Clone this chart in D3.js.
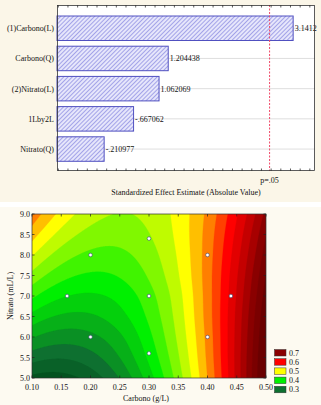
<!DOCTYPE html>
<html><head><meta charset="utf-8">
<script src="https://cdn.jsdelivr.net/npm/d3@7"></script>
<style>html,body{margin:0;padding:0;background:#fff;}svg{display:block;}</style>
</head><body>
<script>
// ---------- Pareto chart data ----------
const categories = ["(1)Carbono(L)", "Carbono(Q)", "(2)Nitrato(L)", "1Lby2L", "Nitrato(Q)"];
const effects = [3.1412, 1.204438, 1.062069, -0.667062, -0.210977];
const effectLabels = ["3.1412", "1.204438", "1.062069", "-.667062", "-.210977"];
const pCritical = 2.776;
const pLabel = "p=.05";
const paretoTitle = "Standardized Effect Estimate (Absolute Value)";

// ---------- Contour chart data ----------
const carbonoValues = [0.10, 0.15, 0.20, 0.25, 0.30, 0.35, 0.40, 0.45, 0.50];
const nitratoValues = [9.0, 8.5, 8.0, 7.5, 7.0, 6.5, 6.0, 5.5, 5.0];
const response = [
  [0.568, 0.517, 0.486, 0.474, 0.482, 0.509, 0.556, 0.622, 0.708],
  [0.536, 0.491, 0.466, 0.460, 0.474, 0.507, 0.560, 0.632, 0.724],
  [0.502, 0.463, 0.444, 0.444, 0.464, 0.503, 0.562, 0.640, 0.738],
  [0.467, 0.434, 0.421, 0.427, 0.453, 0.498, 0.563, 0.647, 0.751],
  [0.430, 0.403, 0.396, 0.408, 0.440, 0.491, 0.562, 0.652, 0.762],
  [0.392, 0.371, 0.371, 0.391, 0.430, 0.486, 0.561, 0.656, 0.772],
  [0.352, 0.337, 0.343, 0.370, 0.418, 0.480, 0.558, 0.658, 0.780],
  [0.311, 0.302, 0.315, 0.350, 0.405, 0.472, 0.555, 0.659, 0.787],
  [0.268, 0.265, 0.285, 0.326, 0.388, 0.462, 0.550, 0.658, 0.792]
];
const designCarbono = [0.20, 0.20, 0.40, 0.40, 0.16, 0.44, 0.30, 0.30, 0.30];
const designNitrato = [6.0, 8.0, 6.0, 8.0, 7.0, 7.0, 5.6, 8.4, 7.0];
const xTicks = [0.10, 0.15, 0.20, 0.25, 0.30, 0.35, 0.40, 0.45, 0.50];
const yTicks = [5.0, 5.5, 6.0, 6.5, 7.0, 7.5, 8.0, 8.5, 9.0];
const legendLevels = [0.7, 0.6, 0.5, 0.4, 0.3];
const colorStops = [0.25, 0.3, 0.4, 0.5, 0.6, 0.7, 0.75];
const colorValues = ["#03521f", "#0e7030", "#00f000", "#ffff00", "#ff0000", "#8a0000", "#6a0000"];
const levelStep = 0.025;

const W = 321, H = 405;
const FONT = "'Liberation Serif', 'Times New Roman', serif";
const svg = d3.select("body").append("svg").attr("width", W).attr("height", H);

// backgrounds
svg.append("rect").attr("x", 0).attr("y", 0).attr("width", W).attr("height", 202).attr("fill", "#fbf6e8");
svg.append("rect").attr("x", 0).attr("y", 207).attr("width", W).attr("height", H - 207).attr("fill", "#fdfaf1");

const defs = svg.append("defs");
const pat = defs.append("pattern").attr("id", "hatch").attr("patternUnits", "userSpaceOnUse")
  .attr("width", 3).attr("height", 3).attr("patternTransform", "rotate(45)");
pat.append("rect").attr("width", 3).attr("height", 3).attr("fill", "#e6e6fb");
pat.append("line").attr("x1", 0).attr("y1", 0).attr("x2", 0).attr("y2", 3)
  .attr("stroke", "#7676dc").attr("stroke-width", 1.2);

// ---------- Pareto ----------
const px0 = 57, px1 = 315, py0 = 5, py1 = 171;
const xE = d3.scaleLinear().domain([-0.52, 3.48]).range([px0, px1]);
const yB = d3.scaleBand().domain(categories).range([10.3, 167]).paddingInner(0.189).paddingOuter(0.189);
const gP = svg.append("g");
gP.append("rect").attr("x", px0).attr("y", py0).attr("width", px1 - px0).attr("height", py1 - py0).attr("fill", "#fff");
gP.selectAll(".grid").data(categories).enter().append("line")
  .attr("x1", px0).attr("x2", px1)
  .attr("y1", d => yB(d) + yB.bandwidth() / 2).attr("y2", d => yB(d) + yB.bandwidth() / 2)
  .attr("stroke", "#d6d6d6").attr("stroke-width", 0.8);
gP.selectAll(".bar").data(categories).enter().append("rect")
  .attr("x", px0).attr("y", d => yB(d))
  .attr("width", (d, i) => xE(Math.abs(effects[i])) - px0)
  .attr("height", yB.bandwidth())
  .attr("fill", "url(#hatch)").attr("stroke", "#5050c0").attr("stroke-width", 1);
gP.selectAll(".val").data(categories).enter().append("text")
  .attr("x", (d, i) => xE(Math.abs(effects[i])) + 1.5)
  .attr("y", d => yB(d) + yB.bandwidth() / 2 + 3)
  .attr("font-family", FONT).attr("font-size", 8).attr("fill", "#111")
  .text((d, i) => effectLabels[i]);
gP.selectAll(".cat").data(categories).enter().append("text")
  .attr("x", 54).attr("y", d => yB(d) + yB.bandwidth() / 2 + 3)
  .attr("text-anchor", "end").attr("font-family", FONT).attr("font-size", 8).attr("fill", "#111")
  .text(d => d);
gP.append("line").attr("x1", xE(pCritical)).attr("x2", xE(pCritical)).attr("y1", py0).attr("y2", py1)
  .attr("stroke", "#f04868").attr("stroke-width", 1).attr("stroke-dasharray", "2,1.5");
// frame
gP.append("rect").attr("x", px0 + 0.5).attr("y", py0 + 0.5).attr("width", px1 - px0 - 1).attr("height", py1 - py0 - 1)
  .attr("fill", "none").attr("stroke", "#333").attr("stroke-width", 0.8);
const frameTicks = d3.range(-0.5, 3.48, 0.15);
gP.selectAll(".tt").data(frameTicks).enter().append("line")
  .attr("x1", d => xE(d)).attr("x2", d => xE(d)).attr("y1", py0).attr("y2", py0 + 2.5)
  .attr("stroke", "#333").attr("stroke-width", 0.8);
gP.selectAll(".tb").data(frameTicks).enter().append("line")
  .attr("x1", d => xE(d)).attr("x2", d => xE(d)).attr("y1", py1).attr("y2", py1 - 2.5)
  .attr("stroke", "#333").attr("stroke-width", 0.8);
gP.append("text").attr("x", xE(pCritical)).attr("y", 183).attr("text-anchor", "middle")
  .attr("font-family", FONT).attr("font-size", 8).attr("fill", "#111").text(pLabel);
gP.append("text").attr("x", 186).attr("y", 194.5).attr("text-anchor", "middle")
  .attr("font-family", FONT).attr("font-size", 8).attr("fill", "#111").text(paretoTitle);

// ---------- Contour ----------
const cx0 = 32, cx1 = 266, cy0 = 214, cy1 = 378;
const xC = d3.scaleLinear().domain([0.10, 0.50]).range([cx0, cx1]);
const yN = d3.scaleLinear().domain([5.0, 9.0]).range([cy1, cy0]);
const color = d3.scaleLinear().domain(colorStops).range(colorValues).clamp(true);

// Catmull-Rom sampling of the read grid (rendering only)
function padded(arr) {
  const n = arr.length;
  return [3 * arr[0] - 3 * arr[1] + arr[2], ...arr, 3 * arr[n - 1] - 3 * arr[n - 2] + arr[n - 3]];
}
function cubic(p0, p1, p2, p3, t) {
  return p1 + 0.5 * t * (p2 - p0 + t * (2 * p0 - 5 * p1 + 4 * p2 - p3 + t * (3 * (p1 - p2) + p3 - p0)));
}
const nc = carbonoValues.length, nr = nitratoValues.length;
const rowsPadded = response.map(padded);
const grid = [];
for (let c = 0; c < nc + 2; c++) {
  grid.push(padded(rowsPadded.map(r => r[c])));
}
const cStep = carbonoValues[1] - carbonoValues[0];
const nStep = nitratoValues[0] - nitratoValues[1];
function sample(C, N) {
  let fi = (C - carbonoValues[0]) / cStep, fj = (nitratoValues[0] - N) / nStep;
  let i = Math.min(Math.max(Math.floor(fi), 0), nc - 2), j = Math.min(Math.max(Math.floor(fj), 0), nr - 2);
  const tx = fi - i, ty = fj - j;
  const col = k => cubic(grid[k][j], grid[k][j + 1], grid[k][j + 2], grid[k][j + 3], ty);
  return cubic(col(i), col(i + 1), col(i + 2), col(i + 3), tx);
}
const RES = 2;
const gw = (cx1 - cx0) * RES, gh = (cy1 - cy0) * RES;
const vals = new Float64Array(gw * gh);
for (let j = 0; j < gh; j++) for (let i = 0; i < gw; i++) {
  const C = xC.invert(cx0 + (i + 0.5) / RES), N = yN.invert(cy0 + (j + 0.5) / RES);
  vals[j * gw + i] = sample(C, N);
}
const levels = d3.range(0.25, 0.80001, levelStep).map(v => +v.toFixed(3));
const contours = d3.contours().size([gw, gh]).thresholds(levels)(vals);
const path = d3.geoPath(d3.geoIdentity().scale(1 / RES).translate([cx0, cy0]));
defs.append("clipPath").attr("id", "cclip").append("rect")
  .attr("x", cx0).attr("y", cy0).attr("width", cx1 - cx0).attr("height", cy1 - cy0);
const gC = svg.append("g");
const gBands = gC.append("g").attr("clip-path", "url(#cclip)");
gBands.append("rect").attr("x", cx0).attr("y", cy0).attr("width", cx1 - cx0).attr("height", cy1 - cy0)
  .attr("fill", color(levels[0]));
gBands.selectAll("path").data(contours).enter().append("path")
  .attr("d", path).attr("fill", d => color(d.value)).attr("stroke", d => color(d.value)).attr("stroke-width", 0.3);

// frame + ticks
gC.append("rect").attr("x", cx0).attr("y", cy0).attr("width", cx1 - cx0).attr("height", cy1 - cy0)
  .attr("fill", "none").attr("stroke", "#333").attr("stroke-width", 0.7);
gC.selectAll(".xtb").data(xTicks).enter().append("line")
  .attr("x1", d => xC(d)).attr("x2", d => xC(d)).attr("y1", cy1).attr("y2", cy1 - 2.5).attr("stroke", "#222").attr("stroke-width", 0.7);
gC.selectAll(".xtt").data(xTicks).enter().append("line")
  .attr("x1", d => xC(d)).attr("x2", d => xC(d)).attr("y1", cy0).attr("y2", cy0 + 2.5).attr("stroke", "#222").attr("stroke-width", 0.7);
gC.selectAll(".ytl").data(yTicks).enter().append("line")
  .attr("x1", cx0).attr("x2", cx0 + 2.5).attr("y1", d => yN(d)).attr("y2", d => yN(d)).attr("stroke", "#222").attr("stroke-width", 0.7);
gC.selectAll(".ytr").data(yTicks).enter().append("line")
  .attr("x1", cx1).attr("x2", cx1 - 2.5).attr("y1", d => yN(d)).attr("y2", d => yN(d)).attr("stroke", "#222").attr("stroke-width", 0.7);
gC.selectAll(".xl").data(xTicks).enter().append("text")
  .attr("x", d => xC(d)).attr("y", 390).attr("text-anchor", "middle")
  .attr("font-family", FONT).attr("font-size", 8).attr("fill", "#111").text(d => d.toFixed(2));
gC.selectAll(".yl").data(yTicks).enter().append("text")
  .attr("x", 30).attr("y", d => yN(d) + 3).attr("text-anchor", "end")
  .attr("font-family", FONT).attr("font-size", 8).attr("fill", "#111").text(d => d.toFixed(1));
gC.append("text").attr("x", 146).attr("y", 401).attr("text-anchor", "middle")
  .attr("font-family", FONT).attr("font-size", 8).attr("fill", "#111").text("Carbono (g/L)");
gC.append("text").attr("transform", "translate(13,296) rotate(-90)").attr("text-anchor", "middle")
  .attr("font-family", FONT).attr("font-size", 8).attr("fill", "#111").text("Nitrato (mL/L)");

// design points
gC.selectAll(".pt").data(designCarbono).enter().append("circle")
  .attr("cx", (d, i) => xC(d)).attr("cy", (d, i) => yN(designNitrato[i])).attr("r", 1.8)
  .attr("fill", "#fff").attr("stroke", "#3a4a7a").attr("stroke-width", 0.6);

// legend
const gL = svg.append("g");
gL.selectAll("rect").data(legendLevels).enter().append("rect")
  .attr("x", 274.5).attr("y", (d, i) => 349.5 + i * 9.2).attr("width", 11.5).attr("height", 6.5)
  .attr("fill", d => color(d)).attr("stroke", "#333").attr("stroke-width", 0.5);
gL.selectAll("text").data(legendLevels).enter().append("text")
  .attr("x", 289).attr("y", (d, i) => 355.5 + i * 9.2)
  .attr("font-family", FONT).attr("font-size", 8).attr("fill", "#111").text(d => d.toFixed(1));
</script>
</body></html>
